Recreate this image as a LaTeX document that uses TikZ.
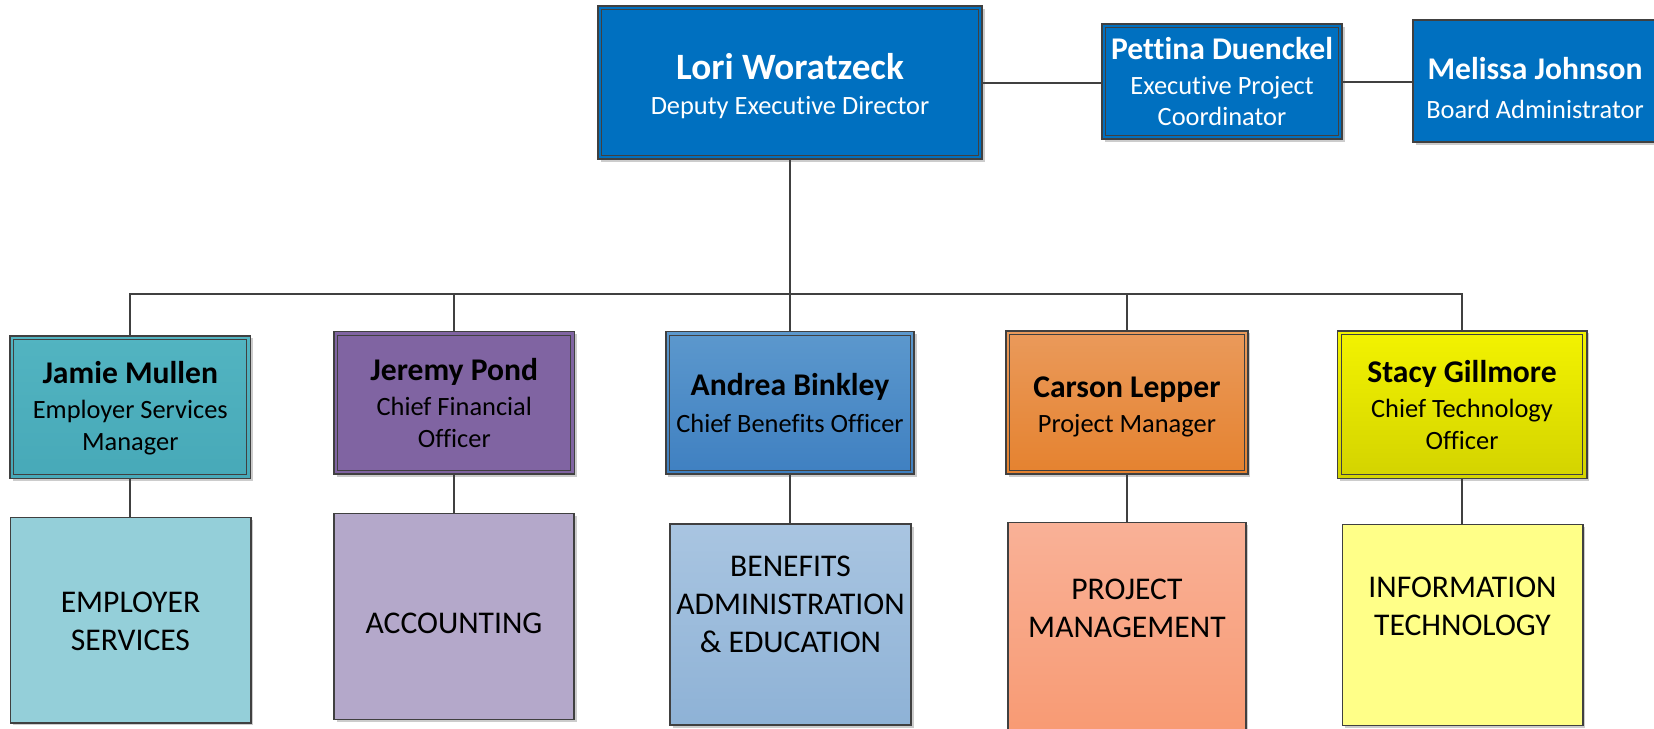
\documentclass[tikz,border=0pt]{standalone}
\usepackage{fontspec}
\setmainfont{Carlito}[Ligatures={NoCommon,NoRequired,NoContextual}]
\usetikzlibrary{shadows}
\definecolor{dkblue}{HTML}{0070C0}
\definecolor{lnc}{HTML}{404040}
\definecolor{tealT}{HTML}{52B4C1}
\definecolor{tealB}{HTML}{47A9B8}
\definecolor{teallt}{HTML}{94CFD9}
\definecolor{purp}{HTML}{8064A2}
\definecolor{purplt}{HTML}{B4A8CA}
\definecolor{bluT}{HTML}{5C98CD}
\definecolor{bluB}{HTML}{3F80C1}
\definecolor{blultT}{HTML}{A9C5E1}
\definecolor{blultB}{HTML}{8EB2D6}
\definecolor{orT}{HTML}{EA9A5B}
\definecolor{orB}{HTML}{E5822F}
\definecolor{salT}{HTML}{F9B197}
\definecolor{salB}{HTML}{F89A73}
\definecolor{yelT}{HTML}{F3F300}
\definecolor{yelB}{HTML}{D3D300}
\definecolor{yellt}{HTML}{FFFF88}
\newcommand\lorifont{\fontsize{18.6}{22}\selectfont\bfseries}
\newcommand\namefont{\fontsize{15.8}{19}\selectfont\bfseries}
\begin{document}
\begin{tikzpicture}[x=0.5pt,y=-0.5pt,
  conn/.style={draw=lnc, line width=1pt},
  box/.style={rectangle, draw=lnc, line width=0.8pt, inner sep=0pt,
    drop shadow={shadow xshift=1.3pt,shadow yshift=-1.3pt,opacity=0.2,fill=black}},
  innerline/.style={draw=lnc, line width=0.45pt},
  txt/.style={inner sep=0pt, align=center},
  subf/.style={font=\fontsize{13.2}{16}\selectfont},
  deptf/.style={font=\fontsize{15.8}{19}\selectfont},
  mgr/.style={box, minimum width=120.3pt, minimum height=71.3pt}
]
\useasboundingbox[fill=white] (0,0) rectangle (1654,728);

% boxes
\node[box, fill=dkblue, minimum width=192pt, minimum height=76.5pt] (lori) at (790,82.5) {};
\node[box, fill=dkblue, minimum width=120pt, minimum height=57.5pt] (pettina) at (1222,81.5) {};
\node[box, fill=dkblue, minimum width=122pt, minimum height=61pt] (melissa) at (1535,81) {};

\node[mgr, top color=tealT, bottom color=tealB] (jamie) at (130.3,407) {};
\node[mgr, fill=purp] (jeremy) at (454.3,402.9) {};
\node[mgr, top color=bluT, bottom color=bluB, minimum width=124.15pt] (andrea) at (790,402.9) {};
\node[mgr, top color=orT, bottom color=orB, minimum width=120.85pt, minimum height=71.65pt] (carson) at (1126.9,402.4) {};
\node[mgr, top color=yelT, bottom color=yelB, minimum width=124.7pt, minimum height=73.8pt] (stacy) at (1462,404.5) {};

\node[box, fill=teallt, minimum width=120.2pt, minimum height=102.7pt] (es) at (130.5,620) {};
\node[box, fill=purplt, minimum width=120pt, minimum height=103pt] (acc) at (454,616.3) {};
\node[box, top color=blultT, bottom color=blultB, minimum width=120.5pt, minimum height=100.5pt] (ben) at (790.5,624.5) {};
\node[box, top color=salT, bottom color=salB, minimum width=118.85pt, minimum height=106.35pt] (pm) at (1126.9,628.7) {};
\node[box, fill=yellt, minimum width=120.2pt, minimum height=100.5pt] (it) at (1462.5,624.8) {};

% inner borders
\foreach \n in {lori,pettina,jamie,jeremy,andrea,carson,stacy}
  \draw[innerline] ([shift={(2.3pt,-2.3pt)}]\n.north west) rectangle ([shift={(-2.3pt,2.3pt)}]\n.south east);

% connectors
\coordinate (bus) at (790,294);
\draw[conn, line width=1.4pt] (lori.south) -- (lori.south |- bus);
\draw[conn] (jamie.north) -- (jamie.north |- bus) -- (stacy.north |- bus) -- (stacy.north);
\foreach \n in {jeremy,andrea,carson}
  \draw[conn] (\n.north) -- (\n.north |- bus);
\draw[conn] (jamie.south) -- (jamie.south |- es.north);
\draw[conn] (jeremy.south) -- (jeremy.south |- acc.north);
\draw[conn] (andrea.south) -- (andrea.south |- ben.north);
\draw[conn] (carson.south) -- (carson.south |- pm.north);
\draw[conn] (stacy.south) -- (stacy.south |- it.north);
\draw[conn] (lori.east) -- (lori.east -| pettina.west);
\draw[conn] (pettina.east) -- (pettina.east -| melissa.west);

% texts
\begin{scope}[every node/.append style={txt}]
\node[subf, text=white] (loriT) at (790,86.3) {{\lorifont Lori Woratzeck}\\[1.5pt]Deputy Executive Director};
\node[font=\fontsize{13.2}{15.4}\selectfont, text=white] (pettinaT) at (1222,81.5) {{\namefont Pettina Duenckel}\\[1.8pt]Executive Project\\Coordinator};
\node[subf, text=white] (melissaT) at (1535,88.5) {{\namefont Melissa Johnson}\\[3.5pt]Board Administrator};

\node[subf] (jamieT) at (130.3,408) {{\namefont Jamie Mullen}\\[1.3pt]Employer Services\\Manager};
\node[subf] (jeremyT) at (454.3,403) {{\namefont Jeremy Pond}\\[1.3pt]Chief Financial\\Officer};
\node[subf] (andreaT) at (790,402.7) {{\namefont Andrea Binkley}\\[2.5pt]Chief Benefits Officer};
\node[subf] (carsonT) at (1126.9,406.5) {{\namefont Carson Lepper}\\[1.5pt]Project Manager};
\node[subf] (stacyT) at (1462,404.7) {{\namefont Stacy Gillmore}\\[1.3pt]Chief Technology\\Officer};

\node[deptf] (esT) at (130.5,621.2) {EMPLOYER\\SERVICES};
\node[deptf] (accT) at (454,623) {ACCOUNTING};
\node[deptf] (benT) at (790.5,604.8) {BENEFITS\\ADMINISTRATION\\\&~EDUCATION};
\node[deptf] (pmT) at (1126.9,608.2) {PROJECT\\MANAGEMENT};
\node[deptf] (itT) at (1462.5,606.5) {INFORMATION\\TECHNOLOGY};
\end{scope}
\end{tikzpicture}
\end{document}
